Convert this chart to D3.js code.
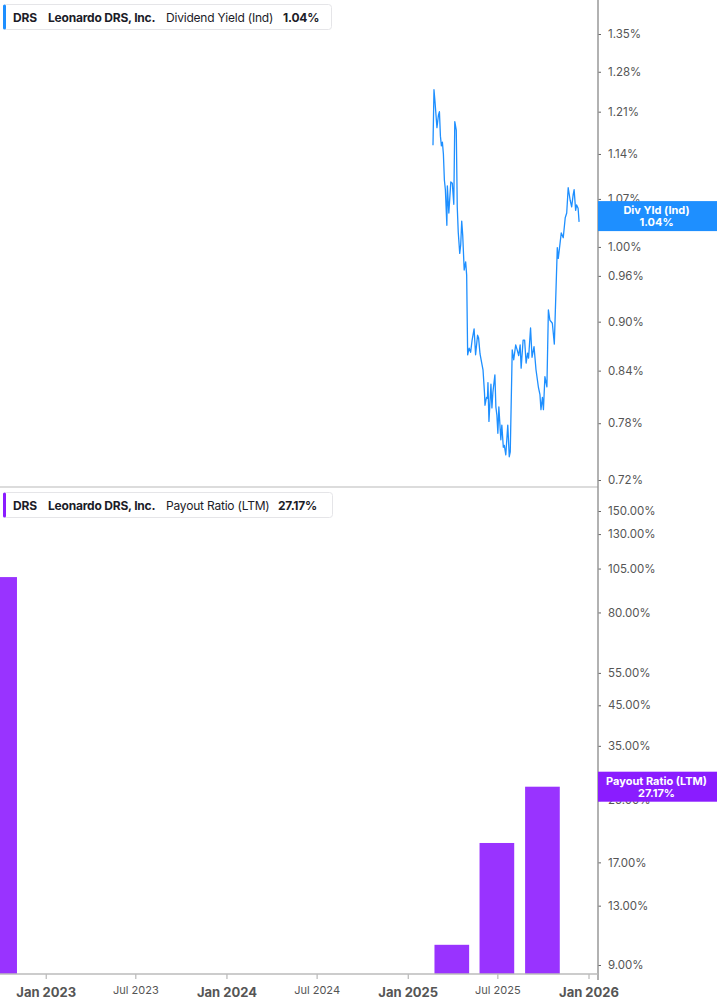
<!DOCTYPE html>
<html>
<head>
<meta charset="utf-8">
<script src="https://cdn.jsdelivr.net/npm/d3@7"></script>
<style>
    body { margin: 0; background: #fff; }
    svg { display: block; font-family: Inter, Roboto, "Noto Sans", sans-serif; }
</style>
</head>
<body>
<svg id="chart" width="717" height="1005"></svg>
<script>
// Dividend Yield (Ind) - daily closes
var yieldDates = [
    "2025-02-21", "2025-02-23", "2025-02-25", "2025-03-01", "2025-03-04", "2025-03-06", "2025-03-08", "2025-03-10",
    "2025-03-12", "2025-03-14", "2025-03-16", "2025-03-18", "2025-03-21", "2025-03-22", "2025-03-25", "2025-03-29",
    "2025-04-01", "2025-04-04", "2025-04-06", "2025-04-09", "2025-04-11", "2025-04-13", "2025-04-16", "2025-04-18",
    "2025-04-20", "2025-04-22", "2025-04-25", "2025-04-28", "2025-04-30", "2025-05-02", "2025-05-05", "2025-05-08",
    "2025-05-11", "2025-05-15", "2025-05-18", "2025-05-22", "2025-05-24", "2025-05-27", "2025-05-31", "2025-06-02",
    "2025-06-05", "2025-06-06", "2025-06-09", "2025-06-11", "2025-06-12", "2025-06-14", "2025-06-18", "2025-06-20",
    "2025-06-22", "2025-06-26", "2025-06-28", "2025-06-30", "2025-07-02", "2025-07-04", "2025-07-08", "2025-07-10",
    "2025-07-13", "2025-07-15", "2025-07-18", "2025-07-22", "2025-07-25", "2025-07-27", "2025-07-31", "2025-08-03",
    "2025-08-07", "2025-08-10", "2025-08-13", "2025-08-16", "2025-08-18", "2025-08-22", "2025-08-25", "2025-08-28",
    "2025-08-31", "2025-09-02", "2025-09-06", "2025-09-09", "2025-09-13", "2025-09-17", "2025-09-22", "2025-09-25",
    "2025-09-27", "2025-09-30", "2025-10-02", "2025-10-05", "2025-10-09", "2025-10-12", "2025-10-15", "2025-10-20",
    "2025-10-24", "2025-10-30", "2025-11-01", "2025-11-07", "2025-11-11", "2025-11-15", "2025-11-18", "2025-11-21",
    "2025-11-25", "2025-11-28", "2025-12-01", "2025-12-03", "2025-12-06", "2025-12-08", "2025-12-11", "2025-12-13"
];
var yieldValues = [
    1.154, 1.248, 1.228, 1.183, 1.204, 1.210, 1.169, 1.153,
    1.159, 1.140, 1.099, 1.084, 1.031, 1.090, 1.049, 1.096,
    1.094, 1.062, 1.193, 1.179, 1.058, 1.021, 0.991, 1.003,
    1.037, 1.017, 0.968, 0.979, 0.961, 0.859, 0.867, 0.862,
    0.877, 0.891, 0.859, 0.883, 0.880, 0.860, 0.847, 0.841,
    0.814, 0.800, 0.809, 0.808, 0.826, 0.782, 0.824, 0.797,
    0.815, 0.835, 0.798, 0.789, 0.769, 0.798, 0.762, 0.778,
    0.754, 0.756, 0.746, 0.778, 0.744, 0.749, 0.865, 0.853,
    0.871, 0.865, 0.858, 0.871, 0.843, 0.877, 0.877, 0.849,
    0.861, 0.855, 0.892, 0.856, 0.869, 0.841, 0.820, 0.812,
    0.795, 0.809, 0.795, 0.833, 0.821, 0.915, 0.902, 0.898,
    0.872, 0.999, 0.984, 1.020, 1.013, 1.042, 1.049, 1.087,
    1.068, 1.058, 1.076, 1.084, 1.053, 1.061, 1.056, 1.036
];

// Payout Ratio (LTM) - quarter ends
var payoutDates = ["2022-09-30", "2025-03-31", "2025-06-30", "2025-09-30"];
var payoutValues = [99.6, 10.2, 19.17, 27.17];

// axis ticks
var yieldTicks = [0.72, 0.78, 0.84, 0.90, 0.96, 1.00, 1.07, 1.14, 1.21, 1.28, 1.35];
var payoutTicks = [9, 13, 17, 25, 35, 45, 55, 80, 105, 130, 150];
var xTicks = ["2023-01-01", "2023-07-01", "2024-01-01", "2024-07-01", "2025-01-01", "2025-07-01", "2026-01-01"];

var blue = "#1e8fff";
var purple = "#9933ff";
var purpleDark = "#8a1cff";
var textDark = "#1c1c28";
var axisGrey = "#555";

var W = 717, plotRight = 598;
var topPanel = { y0: 0, y1: 487 };
var botPanel = { y0: 488, y1: 974 };

var parse = d3.timeParse("%Y-%m-%d");
var svg = d3.select("#chart");

var x = d3.scaleTime()
    .domain([parse("2023-01-01"), parse("2026-01-01")])
    .range([45.7, 588.5]);

var yTop = d3.scaleLog().domain([0.72, 1.35]).range([480, 34]);
var yBot = d3.scaleLog().domain([9, 150]).range([965, 511]);

var defs = svg.append("defs");
defs.append("clipPath").attr("id", "clipTop")
    .append("rect").attr("x", 0).attr("y", topPanel.y0).attr("width", plotRight).attr("height", topPanel.y1 - topPanel.y0);
defs.append("clipPath").attr("id", "clipBot")
    .append("rect").attr("x", 0).attr("y", botPanel.y0).attr("width", plotRight).attr("height", botPanel.y1 - botPanel.y0);

// 上方: 殖利率折線
var yieldData = yieldDates.map(function(d, i) {
    return { date: parse(d), value: yieldValues[i] };
});

var line = d3.line()
    .x(function(d) { return x(d.date); })
    .y(function(d) { return yTop(d.value); });

svg.append("g").attr("clip-path", "url(#clipTop)")
    .append("path")
    .datum(yieldData)
    .attr("fill", "none")
    .attr("stroke", blue)
    .attr("stroke-width", 1.3)
    .attr("stroke-linejoin", "round")
    .attr("d", line);

// 下方: 配息率長條
var payoutData = payoutDates.map(function(d, i) {
    return { date: parse(d), value: payoutValues[i] };
});

function barHalf(d) {
    return x(d.date) - x(d3.timeDay.offset(d.date, -35));
}

svg.append("g").attr("clip-path", "url(#clipBot)")
    .selectAll("rect")
    .data(payoutData)
    .enter()
    .append("rect")
    .attr("x", function(d) { return x(d.date) - barHalf(d); })
    .attr("width", function(d) { return barHalf(d) * 2; })
    .attr("y", function(d) { return yBot(d.value); })
    .attr("height", function(d) { return botPanel.y1 - yBot(d.value); })
    .attr("fill", purple);

// panel separator
svg.append("line")
    .attr("x1", 0).attr("x2", plotRight)
    .attr("y1", 487).attr("y2", 487)
    .attr("stroke", "#dcdcdc").attr("stroke-width", 2);

// right axes
function drawRightAxis(scale, ticks) {
    var g = svg.append("g")
        .attr("transform", "translate(" + plotRight + ",0)")
        .call(d3.axisRight(scale)
            .tickValues(ticks)
            .tickSize(3)
            .tickPadding(7)
            .tickFormat(function(d) { return d.toFixed(2) + "%"; }));
    g.select(".domain").remove();
    g.selectAll(".tick line").attr("stroke", "#666");
    g.selectAll(".tick text")
        .attr("fill", axisGrey)
        .style("font-size", "11.5px")
        .style("font-family", "Inter, Roboto, sans-serif");
    return g;
}
drawRightAxis(yTop, yieldTicks);
drawRightAxis(yBot, payoutTicks);

svg.append("line")
    .attr("x1", plotRight).attr("x2", plotRight)
    .attr("y1", 0).attr("y2", botPanel.y1 + 6)
    .attr("stroke", "#999").attr("stroke-width", 1.5);

// x axis
var xg = svg.append("g")
    .attr("transform", "translate(0," + botPanel.y1 + ")")
    .call(d3.axisBottom(x)
        .tickValues(xTicks.map(parse))
        .tickSize(5)
        .tickPadding(8)
        .tickFormat(d3.timeFormat("%b %Y")));
xg.select(".domain").remove();
xg.selectAll(".tick line").attr("stroke", "#aaa");
xg.selectAll(".tick text")
    .attr("fill", axisGrey)
    .style("font-family", "Inter, Roboto, sans-serif")
    .style("font-size", function(d) { return d.getMonth() == 0 ? "13px" : "11px"; })
    .style("font-weight", function(d) { return d.getMonth() == 0 ? "700" : "400"; })
    .attr("dy", function(d) { return d.getMonth() == 0 ? "0.75em" : "0.6em"; });

svg.append("line")
    .attr("x1", 0).attr("x2", plotRight)
    .attr("y1", botPanel.y1).attr("y2", botPanel.y1)
    .attr("stroke", "#bbb").attr("stroke-width", 1.5);

// 圖例 (文字位置照原圖)
function drawLegend(y, color, metric, value, xs, boxW) {
    var g = svg.append("g").attr("transform", "translate(0," + y + ")");
    g.append("rect")
        .attr("x", 3.5).attr("y", 0.5)
        .attr("width", boxW).attr("height", 25).attr("rx", 3)
        .attr("fill", "#fff").attr("stroke", "#e5e5e8");
    g.append("rect")
        .attr("x", 3).attr("y", 0.5).attr("width", 3).attr("height", 25)
        .attr("rx", 1.5).attr("fill", color);

    var parts = [
        { t: "DRS", w: 700 },
        { t: "Leonardo DRS, Inc.", w: 700 },
        { t: metric, w: 400 },
        { t: value, w: 700 }
    ];
    parts.forEach(function(p, i) {
        g.append("text")
            .attr("x", xs[i]).attr("y", 17.5)
            .attr("fill", textDark)
            .style("font-size", "12px")
            .style("letter-spacing", "-0.2px")
            .style("font-weight", p.w)
            .text(p.t);
    });
}
drawLegend(4, blue, "Dividend Yield (Ind)", "1.04%", [13, 48, 166, 283], 328);
drawLegend(492, purpleDark, "Payout Ratio (LTM)", "27.17%", [13, 48, 166, 278], 329);

// 右側數值標籤
function drawValueTag(cy, color, label, value) {
    var g = svg.append("g");
    g.append("rect")
        .attr("x", plotRight).attr("y", cy - 15)
        .attr("width", W - plotRight).attr("height", 30)
        .attr("fill", color);
    g.append("text")
        .attr("x", (plotRight + W) / 2 - 1).attr("y", cy - 2)
        .attr("text-anchor", "middle").attr("fill", "#fff")
        .style("font-size", "11px").style("font-weight", "700")
        .text(label);
    g.append("text")
        .attr("x", (plotRight + W) / 2 - 1).attr("y", cy + 10)
        .attr("text-anchor", "middle").attr("fill", "#fff")
        .style("font-size", "11px").style("font-weight", "700")
        .text(value);
}
drawValueTag(yTop(1.04) - 3, blue, "Div Yld (Ind)", "1.04%");
drawValueTag(yBot(payoutValues[3]), purpleDark, "Payout Ratio (LTM)", "27.17%");
</script>
</body>
</html>
